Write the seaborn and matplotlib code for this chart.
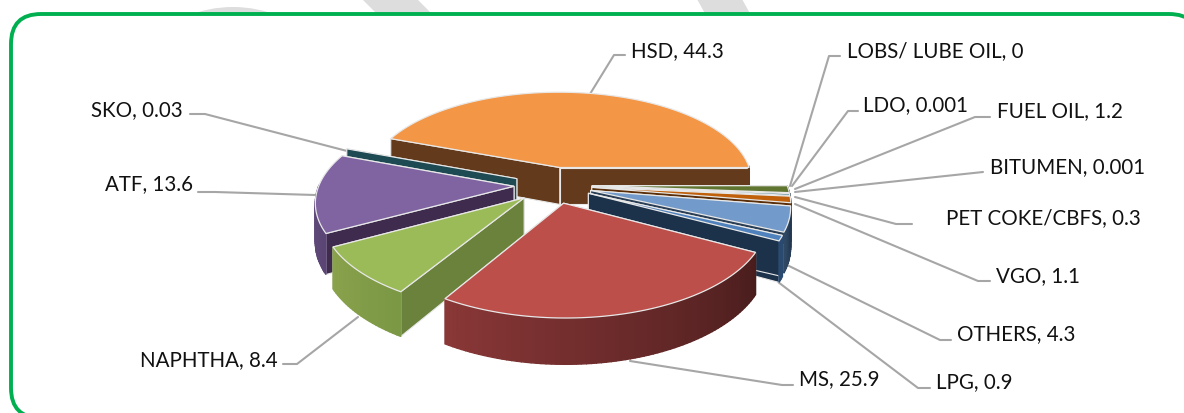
import numpy as np
import pandas as pd
import matplotlib
matplotlib.use('Agg')
import matplotlib.pyplot as plt
from matplotlib.patches import Circle, FancyBboxPatch, Polygon
import seaborn as sns

# order is counter clockwise starting from the right side
products = ['HSD', 'SKO', 'ATF', 'NAPHTHA', 'MS', 'LPG', 'OTHERS', 'VGO',
            'PET COKE/CBFS', 'BITUMEN', 'FUEL OIL', 'LOBS/ LUBE OIL', 'LDO']
shares = [44.3, 0.03, 13.6, 8.4, 25.9, 0.9, 4.3, 1.1, 0.3, 0.001, 1.2, 0, 0.001]

top_colors = ['#F39646', '#4BACC6', '#8064A2', '#9BBB59', '#BD4F4B', '#4F81BD', '#729ACA',
              '#C0600A', '#276A7C', '#4D3B62', '#5F7530', '#772C2A', '#2C4D75']
wall_colors = ['#633A1B', '#1E4A54', '#3E2B4D', '#6B823C', '#4A1D1D', '#1C324B', '#2A3F55',
               '#5A2E08', '#14343C', '#2A1F36', '#3A4A1E', '#3C1615', '#16273C']
rim_left = ['#633A1B', '#1E4A54', '#6A5287', '#8AA24C', '#8A3737', '#2A4A70', '#2F4A68',
            '#5A2E08', '#14343C', '#2A1F36', '#3A4A1E', '#3C1615', '#16273C']
rim_right = ['#633A1B', '#1E4A54', '#5A4574', '#7B9845', '#4A1D1D', '#2A4A70', '#24384F',
             '#5A2E08', '#14343C', '#2A1F36', '#3A4A1E', '#3C1615', '#16273C']

# back slices first, front slices last
draw_order = ['HSD', 'SKO', 'ATF', 'FUEL OIL', 'BITUMEN', 'PET COKE/CBFS', 'VGO', 'OTHERS', 'LPG',
              'NAPHTHA', 'MS']

label_text_pos = [(631, 51), (91, 110), (105, 184), (140, 360), (799, 379), (936, 382), (957, 334),
                  (996, 276), (946, 218), (990, 167), (997, 111), (847, 51), (863, 105)]
leader_paths = [
    [(625, 56), (614, 56), (590, 95)],
    [(190, 115), (205, 115), (347, 152)],
    [(198, 193), (215, 193), (315, 196)],
    [(283, 365), (297, 365), (358, 318)],
    [(793, 386), (782, 386), (630, 362)],
    [(930, 389), (918, 389), (778, 283)],
    [(951, 341), (940, 341), (785, 265)],
    [(990, 282), (978, 282), (795, 205)],
    [(912, 225), (896, 225), (795, 198)],
    [(983, 173), (795, 193)],
    [(990, 118), (975, 118), (795, 190)],
    [(840, 57), (829, 57), (790, 187)],
    [(858, 112), (848, 112), (792, 187)],
]

cx, cy = 553, 186
rx, ry = 195, 91.5
persp = 6.65
explode = 0.2
depth = 38

df = pd.DataFrame({'product': products, 'share': shares})
df['end'] = df['share'].cumsum() / df['share'].sum() * 2 * np.pi
df['start'] = df['end'] - df['share'] / df['share'].sum() * 2 * np.pi
df['mid'] = (df['start'] + df['end']) / 2


def project(x, y, down=0.0):
    s = persp / (persp + y)
    return cx + rx * x * s, cy - ry * y * s + depth * s * down


def hex_mix(a, b, f):
    ca, cb = np.array(matplotlib.colors.to_rgb(a)), np.array(matplotlib.colors.to_rgb(b))
    return tuple(ca + (cb - ca) * f)


def draw_slice(ax, row, i):
    ox, oy = explode * np.cos(row['mid']), explode * np.sin(row['mid'])
    t = np.linspace(row['start'], row['end'], max(int(row['share'] * 3), 2) + 1)
    rim_x, rim_y = ox + np.cos(t), oy + np.sin(t)
    # the two cut faces
    for k in [0, -1]:
        a, b = project(ox, oy), project(rim_x[k], rim_y[k])
        c, d = project(rim_x[k], rim_y[k], 1), project(ox, oy, 1)
        ax.add_patch(Polygon([a, b, c, d], fc=wall_colors[i], ec='#E8E8E8', lw=0.8, zorder=3))
    # outer rim, only the part that faces the viewer
    for k in range(len(t) - 1):
        if np.sin(t[k]) > 0 and np.sin(t[k + 1]) > 0:
            continue
        col = hex_mix(rim_left[i], rim_right[i], k / max(len(t) - 2, 1))
        a, b = project(rim_x[k], rim_y[k]), project(rim_x[k + 1], rim_y[k + 1])
        c, d = project(rim_x[k + 1], rim_y[k + 1], 1), project(rim_x[k], rim_y[k], 1)
        ax.add_patch(Polygon([a, b, c, d], fc=col, ec=col, lw=1.0, zorder=3))
    if row['share'] < 0.1:
        return
    top = [project(ox, oy)] + [project(x, y) for x, y in zip(rim_x, rim_y)]
    ax.add_patch(Polygon(top, fc=top_colors[i], ec='#E8E8E8', lw=0.9, zorder=3))


sns.set_theme(style='white')
plt.rcParams['font.family'] = ['Lato', 'DejaVu Sans']

fig = plt.figure(figsize=(11.84, 4.14), dpi=100)
ax = fig.add_axes([0, 0, 1, 1])
ax.set_xlim(0, 1184)
ax.set_ylim(414, 0)
ax.axis('off')

# grey watermark behind the card
ax.add_patch(Circle((233, 130), 122, fc='#DDDDDD', ec='none', zorder=0))
ax.add_patch(Polygon([(362, 0), (417, 0), (437, 20), (382, 20)], fc='#DDDDDD', ec='none', zorder=0))
ax.add_patch(Polygon([(697, 0), (742, 0), (753, 20), (708, 20)], fc='#DDDDDD', ec='none', zorder=0))

card = FancyBboxPatch((11, 15), 1188, 404, boxstyle='round,pad=0,rounding_size=30',
                      fc='white', ec='#00B050', lw=2.8, zorder=1)
ax.add_patch(card)

for name in draw_order:
    i = products.index(name)
    draw_slice(ax, df.iloc[i], i)

for path, (tx, ty), name, val in zip(leader_paths, label_text_pos, products, shares):
    xs, ys = zip(*path)
    ax.plot(xs, ys, color='#A6A6A6', lw=1.5, zorder=2, solid_joinstyle='round')
    ax.text(tx, ty, f'{name}, {val:g}', fontsize=14.8, color='#111111', va='center', ha='left', zorder=5)

fig.savefig('out.png', dpi=100)
